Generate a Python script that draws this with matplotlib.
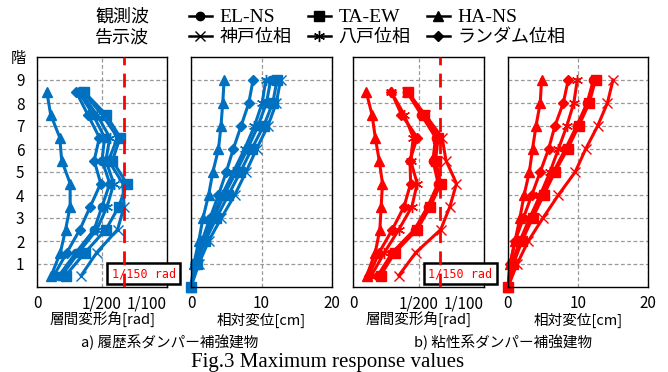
import matplotlib
matplotlib.use('Agg')
import matplotlib.pyplot as plt
from matplotlib.lines import Line2D

plt.rcParams['font.family'] = ['Noto Sans CJK JP', 'DejaVu Sans']

# story mid-heights (drift) and floor levels (displacement)
story = [0.5, 1.5, 2.5, 3.5, 4.5, 5.5, 6.5, 7.5, 8.5]
floor = [0, 1, 2, 3, 4, 5, 6, 7, 8, 9]

names = ['EL-NS', 'TA-EW', 'HA-NS', '神戸位相', '八戸位相', 'ランダム位相']
drift_ticks = [0, 5, 10]            # in 1/1000 rad
drift_ticklabels = ['0', '1/200', '1/100']
disp_ticks = [0, 10, 20]
limit_drift = 1000 / 150            # 1/150 rad in 1/1000 rad

# a) hysteretic damper, story drift angle [1/1000 rad]
a_drift_el = [1.7, 3.0, 4.4, 5.0, 5.6, 5.0, 5.2, 4.3, 3.2]
a_drift_ta = [2.2, 3.7, 5.3, 6.3, 6.9, 5.8, 6.4, 5.3, 3.6]
a_drift_ha = [1.1, 1.8, 2.2, 2.55, 2.55, 1.9, 1.75, 1.05, 0.75]
a_drift_kobe = [3.4, 4.6, 6.2, 6.7, 6.6, 5.5, 6.2, 5.0, 3.5]
a_drift_hachi = [1.9, 3.2, 4.6, 5.4, 5.9, 5.3, 5.6, 4.6, 3.3]
a_drift_rand = [1.3, 2.3, 3.3, 4.1, 4.9, 4.4, 4.8, 3.9, 3.0]

# a) relative displacement [cm]
a_disp_el = [0, 0.7, 1.8, 3.2, 4.7, 6.4, 8.0, 9.5, 10.7, 11.3]
a_disp_ta = [0, 0.8, 2.0, 3.6, 5.3, 7.0, 8.6, 10.3, 11.6, 12.2]
a_disp_ha = [0, 0.4, 1.1, 1.7, 2.5, 3.1, 3.9, 4.25, 4.5, 4.7]
a_disp_kobe = [0, 1.1, 2.5, 4.3, 6.2, 7.8, 9.3, 10.9, 12.1, 12.7]
a_disp_hachi = [0, 0.6, 1.7, 3.0, 4.4, 6.0, 7.6, 9.0, 10.1, 10.6]
a_disp_rand = [0, 0.6, 1.55, 2.7, 3.9, 5.0, 6.0, 7.1, 8.2, 8.8]

# b) viscous damper, story drift angle [1/1000 rad]
b_drift_el = [1.9, 3.0, 4.7, 5.7, 6.5, 6.1, 6.3, 5.2, 4.1]
b_drift_ta = [2.1, 3.2, 4.9, 5.9, 6.7, 6.3, 6.5, 5.4, 4.2]
b_drift_ha = [1.05, 1.7, 2.05, 2.15, 2.25, 2.0, 1.7, 1.45, 1.0]
b_drift_kobe = [3.5, 4.8, 6.7, 7.4, 7.9, 7.1, 6.8, 5.5, 4.1]
b_drift_hachi = [1.4, 2.4, 3.5, 4.5, 4.9, 4.4, 4.6, 3.9, 2.9]
b_drift_rand = [1.2, 2.0, 3.0, 3.9, 4.4, 4.35, 4.9, 3.7, 2.9]

# b) relative displacement [cm]
b_disp_el = [0, 0.7, 1.9, 3.3, 4.9, 6.5, 8.2, 9.8, 11.3, 12.2]
b_disp_ta = [0, 0.75, 2.0, 3.5, 5.1, 6.7, 8.5, 10.1, 11.6, 12.5]
b_disp_ha = [0, 0.3, 1.0, 1.7, 2.3, 3.05, 3.5, 4.0, 4.6, 4.8]
b_disp_kobe = [0, 1.3, 2.9, 5.0, 7.2, 9.6, 11.1, 12.8, 14.2, 15.0]
b_disp_hachi = [0, 0.5, 1.7, 3.1, 4.6, 6.0, 7.2, 8.4, 9.4, 9.9]
b_disp_rand = [0, 0.3, 1.0, 2.2, 3.4, 4.6, 5.8, 6.7, 7.9, 8.6]

blue = '#0070C0'
red = '#FF0000'
mk = {
    'EL-NS': dict(marker='o', ms=6),
    'TA-EW': dict(marker='s', ms=7.5),
    'HA-NS': dict(marker='^', ms=7),
    '神戸位相': dict(marker='x', ms=7, mew=1),
    '八戸位相': dict(marker=(6, 2, 0), ms=8, mew=1),
    'ランダム位相': dict(marker='D', ms=5.5),
}

fig = plt.figure(figsize=(6.68, 3.72), dpi=100)
W, H = 668, 372


def add_ax(x0, x1, y0=57, y1=287):
    return fig.add_axes([x0 / W, 1 - y1 / H, (x1 - x0) / W, (y1 - y0) / H])


def style(ax, xticks, xlabels, xlabel, first=False):
    ax.set_ylim(0, 10)
    ax.set_xlim(xticks[0], xticks[-1])
    ax.set_yticks(range(1, 10))
    ax.set_xticks(xticks)
    ax.set_xticklabels(xlabels)
    ax.grid(True, ls=(0, (3, 2)), color='#999999', lw=0.9)
    ax.tick_params(length=0, labelsize=11, pad=6, labelleft=first)
    ax.tick_params(axis='y', pad=9)
    for s in ax.spines.values():
        s.set_linewidth(1.0)
    ax.set_xlabel(xlabel, fontsize=10.5, labelpad=0)


def drift_panel(ax, color, series):
    for name, vals in zip(names, series):
        ax.plot(vals, story, color=color, lw=2.2, zorder=2, **mk[name])
    style(ax, drift_ticks, drift_ticklabels, '層間変形角[rad]', first=True)
    ax.get_xticklabels()[-1].set_ha('right')
    ax.axvline(limit_drift, color=red, ls=(0, (5, 3)), lw=2, zorder=3)
    ax.text(0.82, 0.058, '1/150 rad', transform=ax.transAxes, ha='center',
            va='center', color=red, family='DejaVu Sans Mono', fontsize=8.5,
            bbox=dict(boxstyle='square,pad=0.35', fc='white', ec='black', lw=1.8),
            clip_on=False, zorder=2.6)


def disp_panel(ax, color, series):
    for name, vals in zip(names, series):
        ax.plot(vals, floor, color=color, lw=2.2, clip_on=False, zorder=2, **mk[name])
    style(ax, disp_ticks, [str(t) for t in disp_ticks], '相対変位[cm]')


ax1 = add_ax(37, 167)
ax2 = add_ax(191, 332)
ax3 = add_ax(353, 484)
ax4 = add_ax(508, 648)

drift_panel(ax1, blue, [a_drift_el, a_drift_ta, a_drift_ha, a_drift_kobe, a_drift_hachi, a_drift_rand])
disp_panel(ax2, blue, [a_disp_el, a_disp_ta, a_disp_ha, a_disp_kobe, a_disp_hachi, a_disp_rand])
drift_panel(ax3, red, [b_drift_el, b_drift_ta, b_drift_ha, b_drift_kobe, b_drift_hachi, b_drift_rand])
ax3.tick_params(labelleft=False)
disp_panel(ax4, red, [b_disp_el, b_disp_ta, b_disp_ha, b_disp_kobe, b_disp_hachi, b_disp_rand])

fig.text(18 / W, 1 - 58 / H, '階', fontsize=11, ha='center', va='center')

# legend
order = ['EL-NS', '神戸位相', 'TA-EW', '八戸位相', 'HA-NS', 'ランダム位相']
handles = [Line2D([], [], color='black', lw=1.8, **mk[n]) for n in order]
leg = fig.legend(handles, order, ncol=3, loc='center left',
                 bbox_to_anchor=(176 / W, 1 - 27.5 / H), frameon=False,
                 fontsize=13, handlelength=1.3, handletextpad=0.4,
                 columnspacing=0.9, labelspacing=0.1, borderpad=0.2)
for t in leg.get_texts():
    if t.get_text() in ('EL-NS', 'TA-EW', 'HA-NS'):
        t.set_fontfamily('Liberation Serif')
        t.set_fontsize(14)
fig.text(122 / W, 1 - 17 / H, '観測波', fontsize=13, ha='center', va='center')
fig.text(122 / W, 1 - 38 / H, '告示波', fontsize=13, ha='center', va='center')

fig.text(170 / W, 1 - 342 / H, 'a) 履歴系ダンパー補強建物', fontsize=10.5, ha='center', va='center')
fig.text(503 / W, 1 - 342 / H, 'b) 粘性系ダンパー補強建物', fontsize=10.5, ha='center', va='center')
fig.text(328 / W, 1 - 362 / H, 'Fig.3 Maximum response values', fontsize=15,
         family='Liberation Serif', ha='center', va='center')

fig.savefig('out.png', dpi=100)
